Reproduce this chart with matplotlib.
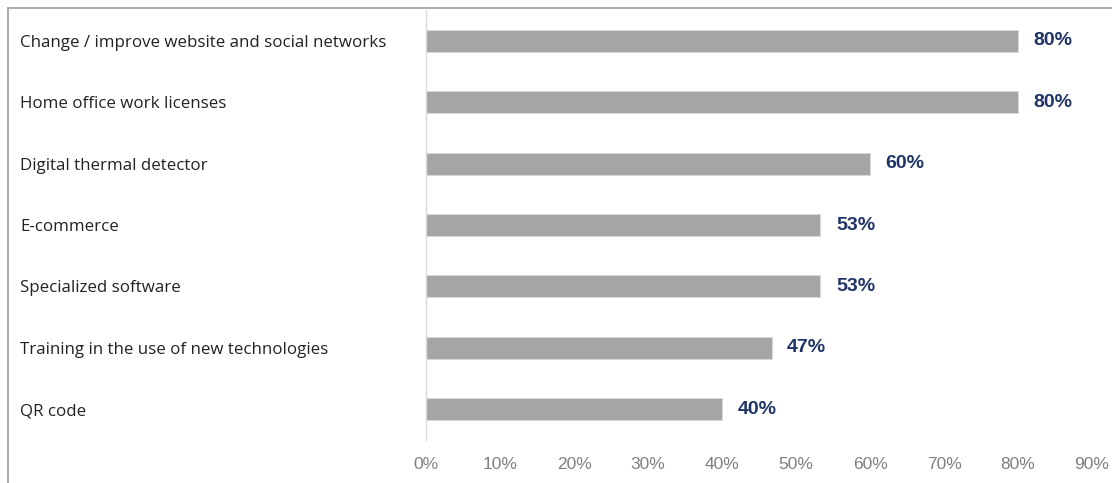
import matplotlib.pyplot as plt
from matplotlib.lines import Line2D

categories = ['Change / improve website and social networks',
              'Home office work licenses',
              'Digital thermal detector',
              'E-commerce',
              'Specialized software',
              'Training in the use of new technologies',
              'QR code']
values = [80, 80, 60, 53.3, 53.3, 46.7, 40]
xticks = [0, 10, 20, 30, 40, 50, 60, 70, 80, 90]

W, H = 1112, 483
fig = plt.figure(figsize=(W / 100, H / 100), dpi=100)
ax = fig.add_axes([426 / W, 1 - 440 / H, (1092 - 426) / W, (440 - 10) / H])

y = list(range(len(categories)))
ax.barh(y, values, height=0.36, color='#a5a5a5', edgecolor='#d9d9d9', linewidth=0.6)
ax.set_ylim(len(categories) - 0.5, -0.5)
ax.set_xlim(0, 90)

for yi, v in zip(y, values):
    ax.text(v + 2.1, yi, f'{v:.0f}%', va='center', ha='left', fontsize=14,
            fontweight='bold', color='#1f3366', family='Liberation Sans')

ax.set_xticks(xticks)
ax.set_xticklabels([f'{t}%' for t in xticks], family='Liberation Sans',
                   fontsize=12.5, color='#7f7f7f')
ax.tick_params(axis='x', length=0, pad=12)

ax.set_yticks(y)
ax.set_yticklabels(categories, family='Open Sans', fontsize=12.2, color='#222222', ha='left')
ax.tick_params(axis='y', length=0, pad=(426 - 20) * 0.72)

for s in ['top', 'right', 'bottom']:
    ax.spines[s].set_visible(False)
ax.spines['left'].set_color('#d9d9d9')
ax.spines['left'].set_linewidth(1)

# screenshot frame lines
fig.add_artist(Line2D([8 / W, 1], [1 - 8 / H, 1 - 8 / H], transform=fig.transFigure,
                      color='#a0a0a0', linewidth=1.2))
fig.add_artist(Line2D([8 / W, 8 / W], [0, 1 - 8 / H], transform=fig.transFigure,
                      color='#a0a0a0', linewidth=1.2))

fig.savefig('out.png', dpi=100)
